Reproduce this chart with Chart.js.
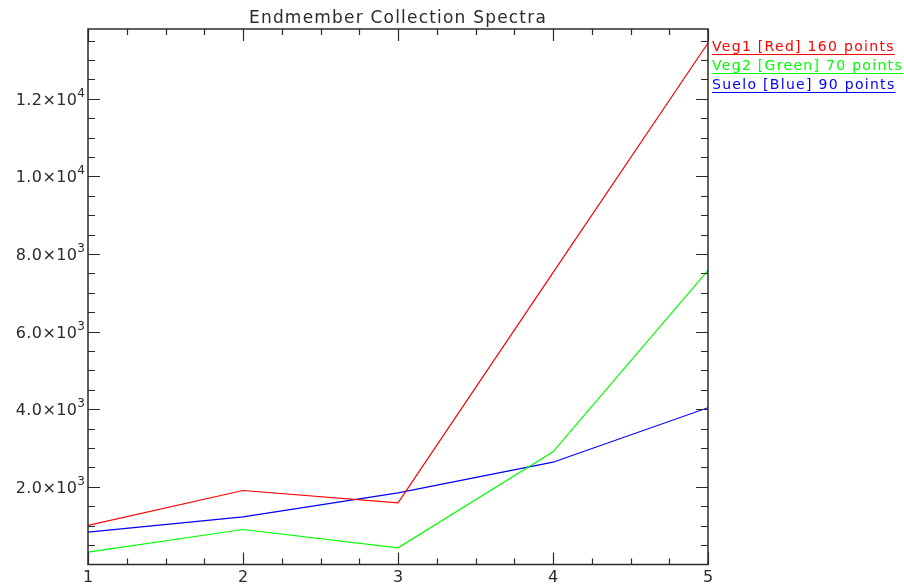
<!DOCTYPE html>
<html>
<head>
<meta charset="utf-8">
<title>Endmember Collection Spectra</title>
<script src="https://cdn.jsdelivr.net/npm/chart.js@4/dist/chart.umd.min.js"></script>
<style>
  html, body { margin: 0; padding: 0; background: #fff; }
  #wrap { width: 904px; height: 584px; }
</style>
</head>
<body>
<div id="wrap"><canvas id="spectra"></canvas></div>
<script>
  // band index along x
  const bands = [1, 2, 3, 4, 5];

  // mean spectra per endmember class
  const veg1 = [1010, 1907, 1590, 7520, 13440];
  const veg2 = [317, 902, 430, 2904, 7580];
  const suelo = [832, 1229, 1848, 2636, 4040];

  const legendLabels = [
    "Veg1 [Red] 160 points",
    "Veg2 [Green] 70 points",
    "Suelo [Blue] 90 points"
  ];
  const seriesColors = ["#ff0000", "#00ff00", "#0000ff"];

  const xMajorTicks = [1, 2, 3, 4, 5];
  const xMinorTicks = [1.25, 1.5, 1.75, 2.25, 2.5, 2.75, 3.25, 3.5, 3.75, 4.25, 4.5, 4.75];
  const yLabelTicks = [2000, 4000, 6000, 8000, 10000, 12000];
  const yMinorStep = 500;
  const yMax = 13800;

  const title = "Endmember Collection Spectra";
  const INK = "#2b2b2b";

  const toPoints = (ys) => bands.map((x, i) => ({ x, y: ys[i] }));

  // split 4000 into "4.0×10" and "3" so the exponent can be raised
  function sciParts(v) {
    const exp = Math.floor(Math.log10(v));
    const mant = (v / Math.pow(10, exp)).toFixed(1);
    return [mant + "×10", String(exp)];
  }

  // box frame, ticks on all four sides, y labels, title and the underlined legend
  const idlFrame = {
    id: "idlFrame",
    afterDraw(chart) {
      const { ctx, chartArea: a, scales } = chart;
      const xs = scales.x, ys = scales.y;
      ctx.save();
      ctx.strokeStyle = INK;
      ctx.lineWidth = 1.5;
      ctx.strokeRect(a.left, a.top, a.right - a.left, a.bottom - a.top);

      ctx.lineWidth = 1.2;
      ctx.beginPath();
      const xTick = (v, len) => {
        const px = Math.round(xs.getPixelForValue(v)) + 0.5;
        ctx.moveTo(px, a.bottom); ctx.lineTo(px, a.bottom - len);
        ctx.moveTo(px, a.top); ctx.lineTo(px, a.top + len);
      };
      const yTick = (v, len) => {
        const py = Math.round(ys.getPixelForValue(v)) + 0.5;
        ctx.moveTo(a.left, py); ctx.lineTo(a.left + len, py);
        ctx.moveTo(a.right, py); ctx.lineTo(a.right - len, py);
      };
      xMajorTicks.forEach((v) => xTick(v, 12));
      xMinorTicks.forEach((v) => xTick(v, 6));
      for (let v = yMinorStep; v < yMax; v += yMinorStep) {
        yTick(v, yLabelTicks.includes(v) ? 12 : 7);
      }
      ctx.stroke();

      // y labels with raised exponent
      ctx.fillStyle = INK;
      ctx.textBaseline = "alphabetic";
      ctx.textAlign = "left";
      yLabelTicks.forEach((v) => {
        const [base, exp] = sciParts(v);
        const py = ys.getPixelForValue(v);
        ctx.font = "12px 'DejaVu Sans'";
        ctx.letterSpacing = "0px";
        const ew = ctx.measureText(exp).width;
        ctx.font = "16px 'DejaVu Sans'";
        ctx.letterSpacing = "0.4px";
        const bw = ctx.measureText(base).width;
        const right = a.left - 3;
        ctx.fillText(base, right - ew - bw, py + 6);
        ctx.font = "12px 'DejaVu Sans'";
        ctx.letterSpacing = "0px";
        ctx.fillText(exp, right - ew, py - 2);
      });

      // title
      ctx.font = "17px 'DejaVu Sans'";
      ctx.letterSpacing = "1.2px";
      ctx.textAlign = "center";
      ctx.fillText(title, (a.left + a.right) / 2, 23);

      // legend to the right of the frame
      ctx.font = "14px 'DejaVu Sans'";
      ctx.letterSpacing = "1.3px";
      ctx.textAlign = "left";
      legendLabels.forEach((label, i) => {
        const x = a.right + 4;
        const y = 51 + i * 19;
        ctx.fillStyle = seriesColors[i];
        ctx.fillText(label, x, y);
        const w = ctx.measureText(label).width;
        ctx.strokeStyle = seriesColors[i];
        ctx.lineWidth = 1.2;
        ctx.beginPath();
        ctx.moveTo(x, y + 3.5);
        ctx.lineTo(x + w, y + 3.5);
        ctx.stroke();
      });
      ctx.restore();
    }
  };

  const lineSet = (label, ys, color) => ({
    label,
    data: toPoints(ys),
    borderColor: color,
    backgroundColor: color,
    borderWidth: 1.2,
    pointRadius: 0,
    tension: 0,
    fill: false
  });

  new Chart(document.getElementById("spectra"), {
    type: "line",
    data: {
      datasets: [
        lineSet(legendLabels[0], veg1, seriesColors[0]),
        lineSet(legendLabels[1], veg2, seriesColors[1]),
        lineSet(legendLabels[2], suelo, seriesColors[2])
      ]
    },
    options: {
      responsive: true,
      maintainAspectRatio: false,
      animation: false,
      events: [],
      layout: { padding: { top: 29, right: 196, bottom: 0, left: 0 } },
      plugins: {
        legend: { display: false },
        title: { display: false },
        tooltip: { enabled: false }
      },
      scales: {
        x: {
          type: "linear",
          min: 1,
          max: 5,
          grid: { display: false, drawTicks: false },
          border: { display: false },
          afterBuildTicks: (axis) => { axis.ticks = xMajorTicks.map((v) => ({ value: v })); },
          afterFit: (axis) => { axis.height = 19.5; },
          ticks: {
            color: INK,
            font: { family: "'DejaVu Sans'", size: 16 },
            padding: 4,
            maxRotation: 0,
            autoSkip: false,
            callback: (v) => String(v)
          }
        },
        y: {
          min: 0,
          max: yMax,
          grid: { display: false, drawTicks: false },
          border: { display: false },
          afterBuildTicks: (axis) => { axis.ticks = yLabelTicks.map((v) => ({ value: v })); },
          afterFit: (axis) => { axis.width = 88; },
          ticks: { display: false }
        }
      }
    },
    plugins: [idlFrame]
  });
</script>
</body>
</html>
